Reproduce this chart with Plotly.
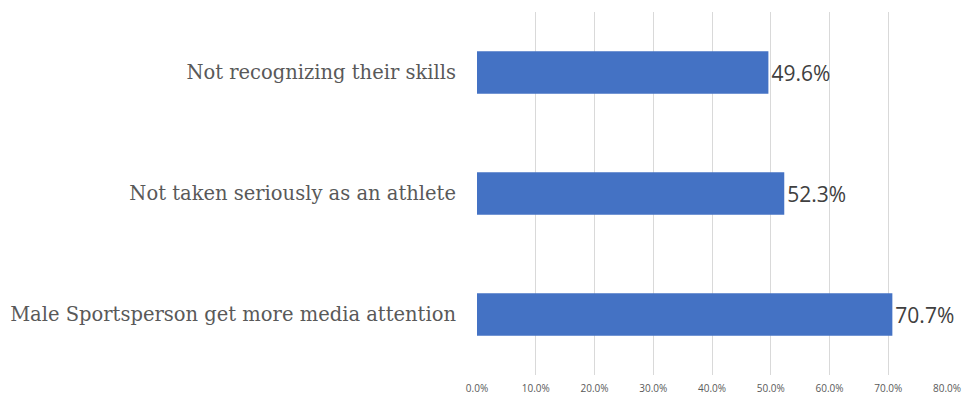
import plotly.graph_objects as go

# Survey responses: share of respondents citing each barrier
categories = [
    "Male Sportsperson get more media attention",
    "Not taken seriously as an athlete",
    "Not recognizing their skills",
]
shares = [70.7, 52.3, 49.6]
tick_values = [0, 10, 20, 30, 40, 50, 60, 70, 80]
tick_labels = ["0.0%", "10.0%", "20.0%", "30.0%", "40.0%", "50.0%", "60.0%", "70.0%", "80.0%"]

fig = go.Figure(
    go.Bar(
        x=shares,
        y=categories,
        orientation="h",
        marker=dict(color="#4472C4", line=dict(width=0)),
        width=0.35,
        text=[f"{v:.1f}%" for v in shares],
        textposition="outside",
        cliponaxis=False,
        textfont=dict(family="Open Sans, DejaVu Sans, sans-serif", size=21, color="#404040"),
    )
)

fig.update_layout(
    width=964,
    height=394,
    margin=dict(l=477, r=17, t=12, b=19),
    paper_bgcolor="white",
    plot_bgcolor="white",
    showlegend=False,
    xaxis=dict(
        range=[0, 80],
        tickvals=tick_values,
        ticktext=tick_labels,
        showgrid=True,
        gridcolor="#D9D9D9",
        gridwidth=1,
        zeroline=False,
        showline=False,
        ticks="",
        automargin=False,
        ticklabelstandoff=6,
        tickfont=dict(family="Open Sans, DejaVu Sans, sans-serif", size=10, color="#595959"),
    ),
    yaxis=dict(
        showgrid=False,
        zeroline=False,
        showline=False,
        ticks="",
        automargin=False,
        ticklabelstandoff=20,
        tickfont=dict(family="DejaVu Serif, Liberation Serif, serif", size=19.5, color="#595959"),
    ),
)

fig.write_html("out.html")
